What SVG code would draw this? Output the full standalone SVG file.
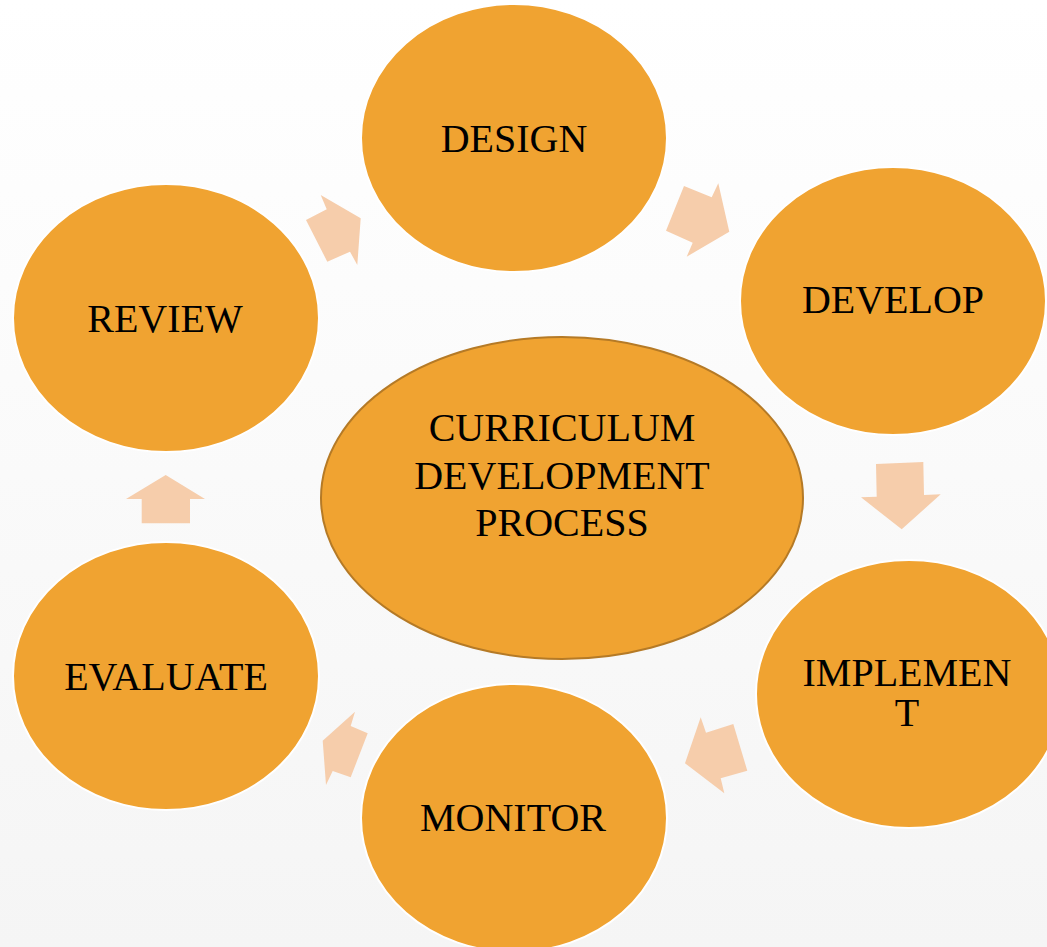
<svg xmlns="http://www.w3.org/2000/svg" width="1047" height="947" viewBox="0 0 1047 947">
<defs>
<linearGradient id="bg" x1="0" y1="0" x2="0" y2="1">
<stop offset="0" stop-color="#ffffff"/>
<stop offset="1" stop-color="#f5f5f5"/>
</linearGradient>
<style>
.node{fill:#f0a331;stroke:#ffffff;stroke-width:2}
.center{fill:#f0a331;stroke:#b57a26;stroke-width:2}
.arrow{fill:#f6cdab}
.lbl{font-family:"Liberation Serif","Times New Roman",serif;font-size:40px;fill:#000;text-anchor:middle}
</style>
</defs>
<rect x="0" y="0" width="1047" height="947" fill="url(#bg)"/>
<g id="connectors">
<polygon class="arrow" points="306,220 326.7,209.3 320.7,195 360.7,218.3 357.3,265 350,251.7 327.3,261.7"/>
<polygon class="arrow" points="684,186 711.7,197.3 718.3,183.3 729.3,231.7 686.7,256.7 692.7,242.7 666,230.7"/>
<polygon class="arrow" points="876,464 923.3,462 924,495 940.7,494.3 901.7,529.3 861,497.3 876.7,496.7"/>
<polygon class="arrow" points="700.7,717.3 706,732.7 733.3,724 747.3,770.7 720.7,778.3 724.3,793.3 685,763.3"/>
<polygon class="arrow" points="355,711.7 350.7,726 367.7,733.3 350.7,777.3 332.7,771 326,785 322.7,740.7"/>
<polygon class="arrow" points="165.7,475 205,499 190,499 190,523.3 141.7,523.3 141.7,499 126,499"/>
</g>
<g id="design">
<ellipse class="node" cx="514" cy="138" rx="153" ry="134"/>
<text class="lbl" x="514" y="152">DESIGN</text>
</g>
<g id="develop">
<ellipse class="node" cx="893" cy="301" rx="153" ry="134"/>
<text class="lbl" x="893" y="313">DEVELOP</text>
</g>
<g id="implement">
<ellipse class="node" cx="909" cy="694" rx="153" ry="134"/>
<text class="lbl" x="907" y="686">IMPLEMEN</text>
<text class="lbl" x="907" y="726">T</text>
</g>
<g id="monitor">
<ellipse class="node" cx="514" cy="818" rx="153" ry="134"/>
<text class="lbl" x="513" y="831">MONITOR</text>
</g>
<g id="evaluate">
<ellipse class="node" cx="166" cy="676" rx="153" ry="134"/>
<text class="lbl" x="166" y="690">EVALUATE</text>
</g>
<g id="review">
<ellipse class="node" cx="166" cy="318" rx="153" ry="134"/>
<text class="lbl" x="165" y="332">REVIEW</text>
</g>
<g id="center">
<ellipse class="center" cx="562" cy="498" rx="241" ry="161"/>
<text class="lbl" x="562" y="441">CURRICULUM</text>
<text class="lbl" x="562" y="489">DEVELOPMENT</text>
<text class="lbl" x="562" y="536">PROCESS</text>
</g>
</svg>
